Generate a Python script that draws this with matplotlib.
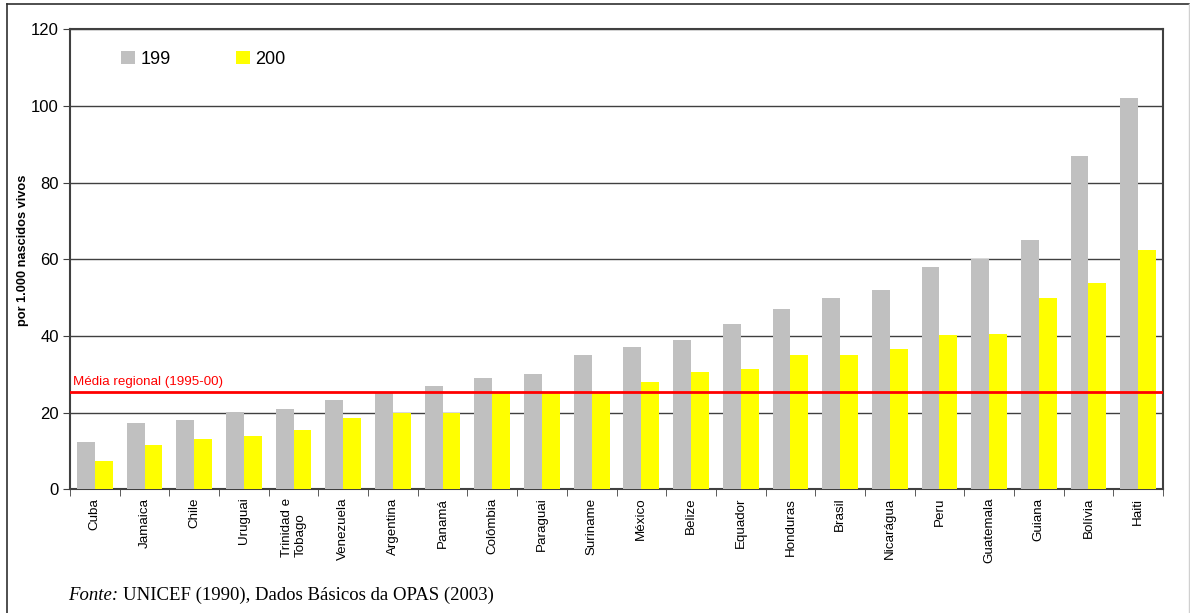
import matplotlib.pyplot as plt
import numpy as np
from matplotlib.lines import Line2D

paises = ['Cuba', 'Jamaica', 'Chile', 'Uruguai', 'Trinidad e\nTobago', 'Venezuela',
          'Argentina', 'Panamá', 'Colômbia', 'Paraguai', 'Suriname', 'México',
          'Belize', 'Equador', 'Honduras', 'Brasil', 'Nicarágua', 'Peru',
          'Guatemala', 'Guiana', 'Bolívia', 'Haiti']
taxa_199 = [12.3, 17.2, 18, 20.2, 21, 23.2, 25.3, 27, 29, 30, 35, 37,
            39, 43, 47, 50, 52, 58, 60, 65, 87, 102]
taxa_200 = [7.3, 11.5, 13, 14, 15.6, 18.5, 20, 20, 25.3, 25.3, 25.3, 27.9,
            30.7, 31.5, 35, 35, 36.5, 40.2, 40.5, 49.8, 53.7, 62.3]
media_regional = 25.3
serie_labels = ['199', '200']

plt.rcParams['font.family'] = ['Liberation Sans', 'DejaVu Sans']

fig = plt.figure(figsize=(11.9, 6.13), dpi=100)
ax = fig.add_axes([70 / 1190, 1 - 489.3 / 613, 1093 / 1190, 460 / 613])

x = np.arange(len(paises))
w = 0.36
ax.bar(x - w / 2, taxa_199, w, color='#c0c0c0', label=serie_labels[0], zorder=3)
ax.bar(x + w / 2, taxa_200, w, color='#ffff00', label=serie_labels[1], zorder=3)

ax.set_xlim(-0.5, len(paises) - 0.5)
ax.set_ylim(0, 120)
ax.set_yticks(range(0, 121, 20))
ax.yaxis.grid(True, color='#404040', linewidth=1, zorder=1)
ax.tick_params(axis='y', labelsize=12, length=5, color='#404040', pad=3)

# category labels at centers, tick marks between groups
ax.set_xticks(x)
ax.set_xticklabels(paises, rotation=90, fontsize=9.6, va='top', ha='center',
                   multialignment='left')
ax.tick_params(axis='x', length=0, pad=6)
ax.set_xticks(np.arange(-0.5, len(paises), 1), minor=True)
ax.tick_params(axis='x', which='minor', length=5, color='#404040')

for s in ax.spines.values():
    s.set_color('#404040')
    s.set_linewidth(1.5)

ax.set_ylabel('por 1.000 nascidos vivos', fontsize=9.2, fontweight='bold')
ax.yaxis.set_label_coords(-0.0375, 0.52)

ax.axhline(media_regional, color='#ff0000', linewidth=2, zorder=4)
ax.text(0.003, media_regional + 1.2, 'Média regional (1995-00)', color='#ff0000',
        fontsize=9.6, transform=ax.get_yaxis_transform(), va='bottom', ha='left')

leg = ax.legend(loc='upper left', bbox_to_anchor=(0.032, 0.988), ncol=2, frameon=False,
                fontsize=13, handlelength=0.75, handleheight=0.75, handletextpad=0.3,
                columnspacing=3.65)

fig.text(68 / 1190, 1 - 600 / 613, 'Fonte:', fontsize=13.5, family='Liberation Serif',
         style='italic', va='baseline')
fig.text(123 / 1190, 1 - 600 / 613, 'UNICEF (1990), Dados Básicos da OPAS (2003)',
         fontsize=13.5, family='Liberation Serif', va='baseline')

# outer frame
fig.add_artist(Line2D([7 / 1190, 1189 / 1190], [1 - 4 / 613] * 2, color='#303030', lw=1.2))
fig.add_artist(Line2D([7 / 1190] * 2, [0, 1 - 4 / 613], color='#303030', lw=1.2))
fig.add_artist(Line2D([1188.5 / 1190] * 2, [0, 1 - 4 / 613], color='#d0d0d0', lw=1))

fig.savefig('out.png', dpi=100)
